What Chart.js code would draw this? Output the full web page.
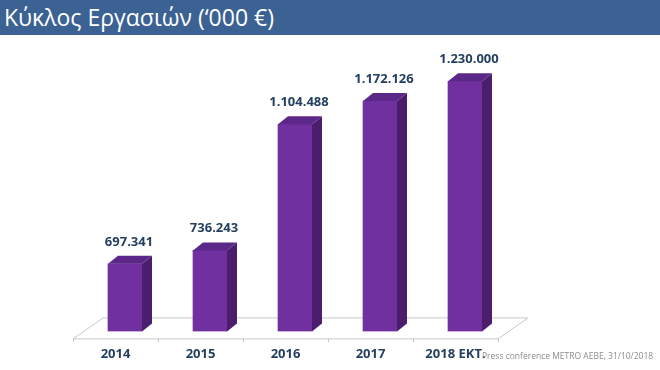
<!DOCTYPE html>
<html>
<head>
<meta charset="utf-8">
<script src="https://cdn.jsdelivr.net/npm/chart.js@4"></script>
<style>
  body { margin: 0; background: #fff; }
  #wrap { position: relative; width: 660px; height: 370px; overflow: hidden; }
  #titlebar {
    position: absolute; left: 0; top: 0; width: 660px; height: 35px;
    background: #3b6293; color: #fff;
    font-family: "Open Sans", sans-serif; font-size: 23px; line-height: 35px;
    padding-left: 4px; box-sizing: border-box; z-index: 2;
  }
  #source {
    position: absolute; left: 482px; top: 350px;
    font-family: "Open Sans", sans-serif; font-size: 8.5px; color: #8c8c8c;
  }
  canvas { position: absolute; left: 0; top: 0; }
</style>
</head>
<body>
<div id="wrap">
  <div id="titlebar">Κύκλος Εργασιών (‘000 €)</div>
  <canvas id="grafico" width="660" height="370"></canvas>
  <div id="source">Press conference METRO AEBE, 31/10/2018</div>
</div>
<script>
// Dados do gráfico
const anos = ['2014', '2015', '2016', '2017', '2018 ΕΚΤ.'];
const volumeNegocios = [697341, 736243, 1104488, 1172126, 1230000];
const valorBase = 500000;

// Cores das faces da barra 3D
const corFrente = '#7030a0';
const corTopo = '#5b2788';
const corLado = '#4a1e6c';
const corTexto = '#243f60';

// Profundidade do efeito 3D
const prof = { dx: 10, dy: -8 };      // barra
const piso = { dx: 30, dy: -21 };     // plano do chão
const desloc = { dx: 9.5, dy: -7 };   // posição da barra sobre o chão

function formatar(v) {
    return v.toString().replace(/\B(?=(\d{3})+(?!\d))/g, '.');
}

// Plugin que desenha o chão e as faces laterais/topo
const efeito3D = {
    id: 'efeito3D',
    beforeDatasetsDraw(chart) {
        const ctx = chart.ctx;
        const a = chart.chartArea;
        ctx.save();
        ctx.strokeStyle = '#c8c8c8';
        ctx.lineWidth = 1;
        ctx.beginPath();
        ctx.moveTo(a.left, a.bottom + 0.5);
        ctx.lineTo(a.right, a.bottom + 0.5);
        ctx.lineTo(a.right + piso.dx, a.bottom + piso.dy + 0.5);
        ctx.lineTo(a.left + piso.dx, a.bottom + piso.dy + 0.5);
        ctx.closePath();
        ctx.stroke();
        // marcas entre categorias
        ctx.beginPath();
        for (let i = 0; i <= anos.length; i++) {
            const px = Math.round(a.left + (a.right - a.left) * i / anos.length) + 0.5;
            ctx.moveTo(px, a.bottom);
            ctx.lineTo(px, a.bottom + 4);
        }
        ctx.stroke();
        ctx.restore();

        ctx.save();
        ctx.translate(desloc.dx, desloc.dy);
    },
    afterDatasetsDraw(chart) {
        const ctx = chart.ctx;
        const meta = chart.getDatasetMeta(0);
        const fundo = chart.chartArea.bottom;
        meta.data.forEach((bar, i) => {
            const p = bar.getProps(['x', 'y', 'base', 'width'], true);
            const x1 = p.x - p.width / 2, x2 = p.x + p.width / 2;
            const base = Math.min(p.base, fundo);
            // lado
            ctx.fillStyle = corLado;
            ctx.beginPath();
            ctx.moveTo(x2, p.y);
            ctx.lineTo(x2 + prof.dx, p.y + prof.dy);
            ctx.lineTo(x2 + prof.dx, base + prof.dy);
            ctx.lineTo(x2, base);
            ctx.closePath();
            ctx.fill();
            // topo
            ctx.fillStyle = corTopo;
            ctx.beginPath();
            ctx.moveTo(x1, p.y);
            ctx.lineTo(x2, p.y);
            ctx.lineTo(x2 + prof.dx, p.y + prof.dy);
            ctx.lineTo(x1 + prof.dx, p.y + prof.dy);
            ctx.closePath();
            ctx.fill();
            // rótulo do valor
            ctx.fillStyle = corTexto;
            ctx.font = 'bold 13px "Open Sans", sans-serif';
            ctx.textAlign = 'center';
            ctx.textBaseline = 'alphabetic';
            ctx.fillText(formatar(volumeNegocios[i]), p.x + prof.dx / 2 - 1, p.y + prof.dy - 10);
        });
        ctx.restore();
    }
};

const ctx = document.getElementById('grafico').getContext('2d');
new Chart(ctx, {
    type: 'bar',
    data: {
        labels: anos,
        datasets: [{
            label: 'Κύκλος Εργασιών',
            data: volumeNegocios,
            base: valorBase,
            backgroundColor: corFrente,
            borderWidth: 0,
            barThickness: 34
        }]
    },
    options: {
        responsive: false,
        animation: false,
        layout: { padding: { left: 73, right: 162, top: 30, bottom: 0 } },
        plugins: { legend: { display: false }, tooltip: { enabled: false } },
        scales: {
            x: {
                grid: { display: false, drawTicks: false },
                border: { display: false },
                ticks: {
                    color: corTexto,
                    font: { family: '"Open Sans", sans-serif', size: 13, weight: 'bold' },
                    padding: 8,
                    maxRotation: 0
                }
            },
            y: {
                display: false,
                min: valorBase,
                max: 1400000
            }
        }
    },
    plugins: [efeito3D]
});
</script>
</body>
</html>
